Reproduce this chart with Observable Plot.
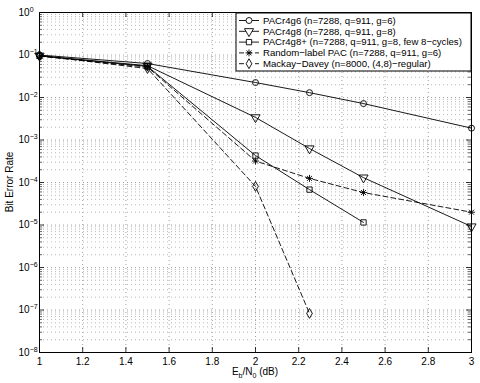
<!DOCTYPE html>
<html><head><meta charset="utf-8">
<script src="https://cdn.jsdelivr.net/npm/d3@7"></script>
<script src="https://cdn.jsdelivr.net/npm/@observablehq/plot@0.6"></script>
<style>
html,body{margin:0;padding:0;background:#fff;}
svg{font-family:"Liberation Sans",Arial,Helvetica,sans-serif;}
</style></head>
<body><div id="chart"></div>
<script>
// Eb/N0 (dB)
const ebn0 = [1, 1.5, 2, 2.25, 2.5, 3];
const ebn0G8p = [1, 1.5, 2, 2.25, 2.5];
const ebn0MD = [1, 1.5, 2, 2.25];
// Bit error rates
const berG6 = [0.1, 0.063, 0.0225, 0.013, 0.0072, 0.0019];
const berG8 = [0.096, 0.056, 0.0034, 0.00063, 0.00013, 9.2e-6];
const berG8p = [0.095, 0.054, 0.00043, 6.8e-5, 1.15e-5];
const berRand = [0.094, 0.052, 0.00032, 0.000125, 5.8e-5, 2e-5];
const berMD = [0.097, 0.048, 8.1e-5, 8.3e-8];
// legend labels
const names = [
  "PACr4g6 (n=7288, q=911, g=6)",
  "PACr4g8 (n=7288, q=911, g=8)",
  "PACr4g8+ (n=7288, q=911, g=8, few 8\u2212cycles)",
  "Random\u2212label PAC (n=7288, q=911, g=6)",
  "Mackay\u2212Davey (n=8000, (4,8)\u2212regular)"
];
const symbols = ["circle", "triangle", "square", "asterisk", "diamond"];
const rotations = [0, 180, 0, 0, 0];
const dashed = [false, false, false, true, true];
// ticks
const xTicks = [1, 1.2, 1.4, 1.6, 1.8, 2, 2.2, 2.4, 2.6, 2.8, 3];
const yDecades = [1e-8, 1e-7, 1e-6, 1e-5, 1e-4, 1e-3, 1e-2, 1e-1, 1];

const series = [
  {x: ebn0, y: berG6},
  {x: ebn0, y: berG8},
  {x: ebn0G8p, y: berG8p},
  {x: ebn0, y: berRand},
  {x: ebn0MD, y: berMD}
];
const minorY = [];
for (let e = -8; e < 0; e++) for (let m = 2; m <= 9; m++) minorY.push(m * Math.pow(10, e));

const W = 480, H = 383, mL = 39, mR = 9, mT = 12, mB = 31;
const pw = W - mL - mR, ph = H - mT - mB;
const grid = {stroke: "#888", strokeWidth: 0.8, strokeDasharray: "1,3"};

const marks = [
  Plot.ruleY(minorY, {y: d => d, ...grid, strokeOpacity: 0.75}),
  Plot.ruleY(yDecades.slice(1, -1), {y: d => d, ...grid}),
  Plot.ruleX(xTicks.slice(1, -1), {x: d => d, ...grid})
];
series.forEach((s, i) => {
  const data = s.x.map((x, j) => ({x, y: s.y[j]}));
  marks.push(Plot.line(data, {x: "x", y: "y", stroke: "black", strokeWidth: 0.9,
    strokeDasharray: dashed[i] ? "5,3" : null}));
  if (symbols[i] === "asterisk") {
    marks.push(Plot.dot(data, {x: "x", y: "y", symbol: "plus", r: 2.4, stroke: "black", strokeWidth: 0.9}));
    marks.push(Plot.dot(data, {x: "x", y: "y", symbol: "times", r: 2.4, stroke: "black", strokeWidth: 0.9}));
  } else {
    marks.push(Plot.dot(data, {x: "x", y: "y", symbol: symbols[i], r: symbols[i] === "triangle" ? 3.4 : 3,
      rotate: rotations[i], stroke: "black", fill: "none", strokeWidth: 0.9}));
  }
});
// inward ticks
marks.push(
  Plot.ruleY(yDecades, {y: d => d, stroke: "black", strokeWidth: 0.8, insetRight: pw - 5}),
  Plot.ruleY(yDecades, {y: d => d, stroke: "black", strokeWidth: 0.8, insetLeft: pw - 5}),
  Plot.ruleY(minorY, {y: d => d, stroke: "black", strokeWidth: 0.6, insetRight: pw - 3}),
  Plot.ruleY(minorY, {y: d => d, stroke: "black", strokeWidth: 0.6, insetLeft: pw - 3}),
  Plot.ruleX(xTicks, {x: d => d, stroke: "black", strokeWidth: 0.8, insetTop: ph - 5}),
  Plot.ruleX(xTicks, {x: d => d, stroke: "black", strokeWidth: 0.8, insetBottom: ph - 5}),
  Plot.frame({stroke: "black", strokeWidth: 1}),
  Plot.axisX(xTicks, {tickSize: 0, tickPadding: 5, fontSize: 10, tickFormat: d3.format("~g"), label: null}),
  Plot.axisY(yDecades, {tickSize: 0, tickPadding: 0, fontSize: 10, textAnchor: "start", dx: -21,
    tickFormat: d => String(Math.round(Math.log10(d))).replace("-", "\u2212"), label: null})
);

const svg = Plot.plot({
  width: W, height: H,
  marginLeft: mL, marginRight: mR, marginTop: mT, marginBottom: mB,
  style: {fontFamily: '"Liberation Sans", Arial, sans-serif', fontSize: "10px", color: "black", background: "white"},
  x: {domain: [1, 3]},
  y: {type: "log", domain: [1e-8, 1]},
  marks
});
document.getElementById("chart").appendChild(svg);

const s = d3.select(svg);
// superscripts on y tick labels
s.selectAll('g[aria-label="y-axis tick label"] text').each(function() {
  const t = d3.select(this);
  const e = t.text();
  t.text("10");
  t.append("tspan").attr("dy", "-0.55em").attr("font-size", "7px").text(e);
});
// axis titles
const xl = s.append("text").attr("x", mL + pw / 2).attr("y", 375).attr("text-anchor", "middle")
  .attr("font-size", 10).attr("fill", "black");
xl.append("tspan").text("E");
xl.append("tspan").attr("font-size", 7).attr("dy", 3).text("b");
xl.append("tspan").attr("dy", -3).text("/N");
xl.append("tspan").attr("font-size", 7).attr("dy", 3).text("0");
xl.append("tspan").attr("dy", -3).text(" (dB)");
s.append("text").attr("transform", `translate(13,${mT + ph / 2}) rotate(-90)`)
  .attr("text-anchor", "middle").attr("font-size", 10).attr("fill", "black").text("Bit Error Rate");

// legend
const lg = s.append("g");
const lx = 236, ly = 13, lw = W - mR - lx, lh = 58;
lg.append("rect").attr("x", lx).attr("y", ly).attr("width", lw).attr("height", lh)
  .attr("fill", "white").attr("stroke", "black").attr("stroke-width", 1);
const symMap = {circle: d3.symbolCircle, triangle: d3.symbolTriangle, square: d3.symbolSquare, diamond: d3.symbolDiamond};
names.forEach((n, i) => {
  const y = ly + 7.5 + i * 10.8;
  lg.append("line").attr("x1", lx + 3).attr("x2", lx + 23).attr("y1", y).attr("y2", y)
    .attr("stroke", "black").attr("stroke-width", 0.9).attr("stroke-dasharray", dashed[i] ? "5,3" : null);
  const cx = lx + 13;
  if (symbols[i] === "asterisk") {
    lg.append("path").attr("transform", `translate(${cx},${y})`).attr("d", d3.symbol(d3.symbolPlus, 18)())
      .attr("fill", "none").attr("stroke", "black").attr("stroke-width", 0.9);
    lg.append("path").attr("transform", `translate(${cx},${y})`).attr("d", d3.symbol(d3.symbolTimes, 18)())
      .attr("fill", "none").attr("stroke", "black").attr("stroke-width", 0.9);
  } else {
    const sz = Math.PI * (symbols[i] === "triangle" ? 3.4 : 3) ** 2;
    lg.append("path").attr("transform", `translate(${cx},${y}) rotate(${rotations[i]})`)
      .attr("d", d3.symbol(symMap[symbols[i]], sz)()).attr("fill", "white").attr("stroke", "black").attr("stroke-width", 0.9);
  }
  lg.append("text").attr("x", lx + 27).attr("y", y).attr("dy", "0.35em").attr("font-size", 9.6)
    .attr("text-anchor", "start").attr("fill", "black").text(n);
});
</script>
</body></html>
